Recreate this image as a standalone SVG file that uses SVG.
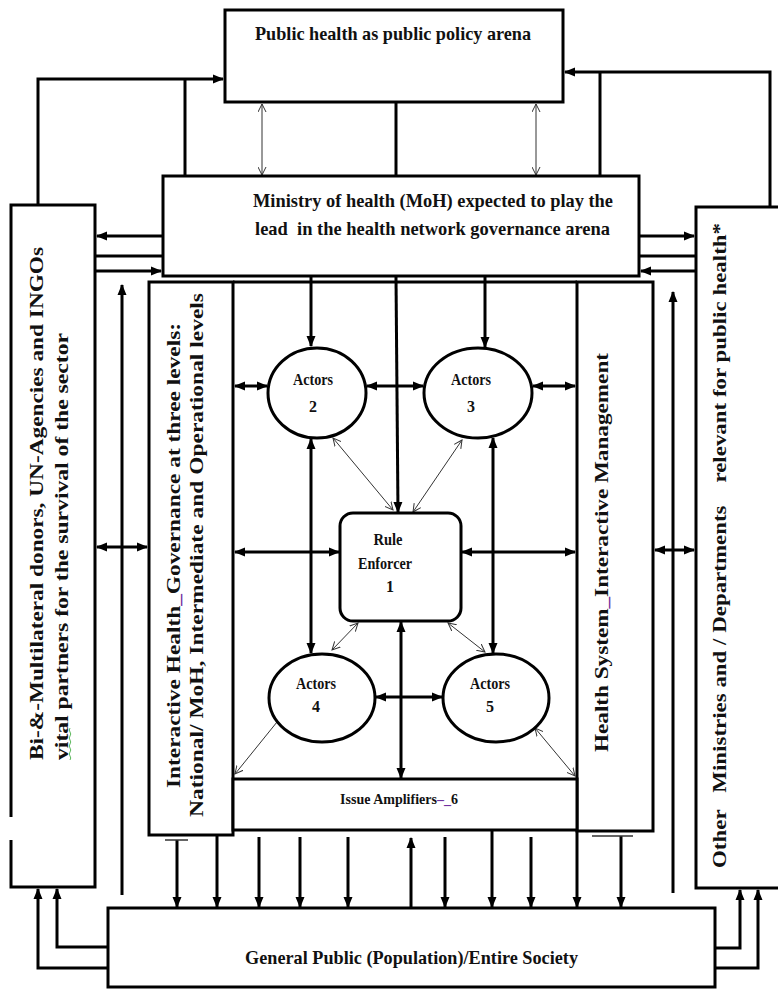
<svg xmlns="http://www.w3.org/2000/svg" width="778" height="989" viewBox="0 0 778 989">
<defs>
<style>
.box{fill:#fff;stroke:#000;stroke-width:3}
.ln{fill:none;stroke:#000;stroke-width:3}
.th{fill:none;stroke:#333;stroke-width:1}
.t{font-family:"Liberation Serif","Times New Roman",serif;font-weight:bold;fill:#111}
.pu{fill:#7030A0}
</style>
<marker id="ah" markerUnits="userSpaceOnUse" markerWidth="11" markerHeight="10" refX="10" refY="5" orient="auto-start-reverse"><path d="M0,0.5 L11,5 L0,9.5 z" fill="#000"/></marker>
<marker id="va" markerUnits="userSpaceOnUse" markerWidth="9" markerHeight="9" refX="8" refY="4.5" orient="auto-start-reverse"><path d="M0,0.5 L8,4.5 L0,8.5" fill="none" stroke="#333" stroke-width="1"/></marker>
</defs>
<rect width="778" height="989" fill="#fff"/>

<g id="connectors">
<path class="ln" d="M38,205 V79 H223" marker-end="url(#ah)"/>
<path class="ln" d="M185,79 V176"/>
<path class="ln" d="M770,207 V72 H565" marker-end="url(#ah)"/>
<path class="ln" d="M600,72 V176"/>
<path class="ln" d="M396,102 V176"/>
<path class="th" d="M262,104 V175" marker-start="url(#va)" marker-end="url(#va)"/>
<path class="th" d="M536,104 V175" marker-start="url(#va)" marker-end="url(#va)"/>
<path class="ln" d="M163,236 H97" marker-end="url(#ah)"/>
<path class="ln" d="M95,256 H163"/>
<path class="ln" d="M95,271 H161" marker-end="url(#ah)"/>
<path class="ln" d="M639,236 H694" marker-end="url(#ah)"/>
<path class="ln" d="M639,256 H696"/>
<path class="ln" d="M696,271 H641" marker-end="url(#ah)"/>
<path class="ln" d="M122,895 V285" marker-end="url(#ah)"/>
<path class="ln" d="M673,893 V292" marker-end="url(#ah)"/>
<path class="ln" d="M97,547 H147" marker-start="url(#ah)" marker-end="url(#ah)"/>
<path class="ln" d="M655,550 H694" marker-start="url(#ah)" marker-end="url(#ah)"/>
<path class="ln" d="M311,277 V346" marker-end="url(#ah)"/>
<path class="ln" d="M396,277 L398,512" marker-end="url(#ah)"/>
<path class="ln" d="M485,277 V347" marker-end="url(#ah)"/>
<path class="ln" d="M235,386 H267" marker-start="url(#ah)" marker-end="url(#ah)"/>
<path class="ln" d="M367,386 H423" marker-start="url(#ah)" marker-end="url(#ah)"/>
<path class="ln" d="M533,386 H575" marker-start="url(#ah)" marker-end="url(#ah)"/>
<path class="th" d="M333,438 L393,510" marker-start="url(#va)" marker-end="url(#va)"/>
<path class="th" d="M462,440 L413,512" marker-start="url(#va)" marker-end="url(#va)"/>
<path class="ln" d="M311,439 V653" marker-start="url(#ah)" marker-end="url(#ah)"/>
<path class="ln" d="M493,438 V653" marker-start="url(#ah)" marker-end="url(#ah)"/>
<path class="ln" d="M235,552 H339" marker-start="url(#ah)" marker-end="url(#ah)"/>
<path class="ln" d="M462,552 H575" marker-start="url(#ah)" marker-end="url(#ah)"/>
<path class="ln" d="M376,697 H442" marker-start="url(#ah)" marker-end="url(#ah)"/>
<path class="ln" d="M401,622 V778" marker-start="url(#ah)" marker-end="url(#ah)"/>
<path class="th" d="M358,623 L332,650" marker-start="url(#va)" marker-end="url(#va)"/>
<path class="th" d="M448,623 L485,652" marker-start="url(#va)" marker-end="url(#va)"/>
<path class="th" d="M277,722 L235,774" marker-end="url(#va)"/>
<path class="th" d="M535,728 L575,776" marker-start="url(#va)" marker-end="url(#va)"/>
<path class="ln" d="M177,840 V907" marker-end="url(#ah)"/>
<path class="ln" d="M217,835 V907" marker-end="url(#ah)"/>
<path class="ln" d="M259,837 V907" marker-end="url(#ah)"/>
<path class="ln" d="M300,837 V907" marker-end="url(#ah)"/>
<path class="ln" d="M348,837 V907" marker-end="url(#ah)"/>
<path class="ln" d="M411,908 V838" marker-end="url(#ah)"/>
<path class="ln" d="M445,837 V907" marker-end="url(#ah)"/>
<path class="ln" d="M492,830 V907" marker-end="url(#ah)"/>
<path class="ln" d="M531,837 V907" marker-end="url(#ah)"/>
<path class="ln" d="M577,831 V907" marker-end="url(#ah)"/>
<path class="ln" d="M621,836 V907" marker-end="url(#ah)"/>
<path d="M165,840 H188 M592,836 H633" stroke="#333" stroke-width="1.5" fill="none"/>
<path class="ln" d="M108,947 H57 V889" marker-end="url(#ah)"/>
<path class="ln" d="M108,968 H38 V889" marker-end="url(#ah)"/>
<path class="ln" d="M715,948 H740 V890" marker-end="url(#ah)"/>
<path class="ln" d="M715,968 H758 V890" marker-end="url(#ah)"/>
</g>

<g id="policy-arena">
<rect class="box" x="225" y="10" width="338" height="92"/>
<text class="t" x="255" y="40" font-size="19" textLength="276" lengthAdjust="spacingAndGlyphs">Public health as public policy arena</text>
</g>

<g id="moh">
<rect class="box" x="163" y="176" width="476" height="100"/>
<text class="t" x="253" y="207" font-size="19" textLength="360" lengthAdjust="spacingAndGlyphs">Ministry of health (MoH) expected to play the</text>
<text class="t" x="255" y="235" font-size="19" textLength="355" lengthAdjust="spacingAndGlyphs" xml:space="preserve">lead  in the health network governance arena</text>
</g>

<g id="donors">
<path class="box" d="M11,817 V205 H95 V887 H11 V840"/>
<text class="t" transform="translate(43,760) rotate(-90)" font-size="19" textLength="513" lengthAdjust="spacingAndGlyphs">Bi-&amp;-Multilateral donors, UN-Agencies and INGOs</text>
<text class="t" transform="translate(68,760) rotate(-90)" font-size="19" textLength="427" lengthAdjust="spacingAndGlyphs">vital partners for the survival of the sector</text>
<path d="M70,760 q1.5,-2 0,-4 q-1.5,-2 0,-4 q1.5,-2 0,-4 q-1.5,-2 0,-4 q1.5,-2 0,-4 q-1.5,-2 0,-4 q1.5,-2 0,-4 q-1.5,-2 0,-4" fill="none" stroke="#5cb85c" stroke-width="1"/>
</g>

<g id="other-ministries">
<rect class="box" x="696" y="207" width="100" height="681"/>
<text class="t" transform="translate(726,868) rotate(-90)" font-size="19" textLength="645" lengthAdjust="spacingAndGlyphs" xml:space="preserve">Other   Ministries and / Departments    relevant for public health*</text>
</g>

<g id="interactive-governance">
<rect class="box" x="149" y="282" width="84" height="553"/>
<text class="t" transform="translate(180,788) rotate(-90)" font-size="19" textLength="465" lengthAdjust="spacingAndGlyphs">Interactive Health<tspan class="pu">_</tspan>Governance at three levels:</text>
<text class="t" transform="translate(203,817) rotate(-90)" font-size="19" textLength="524" lengthAdjust="spacingAndGlyphs">National/ MoH, Intermediate and Operational levels</text>
</g>

<g id="inner-frame">
<path class="ln" d="M233,282 H577"/>
</g>

<g id="health-system">
<rect class="box" x="577" y="282" width="76" height="549"/>
<text class="t" transform="translate(608,752) rotate(-90)" font-size="19" textLength="399" lengthAdjust="spacingAndGlyphs">Health System<tspan class="pu">_</tspan>Interactive Management</text>
</g>

<g id="issue-amplifiers">
<rect class="box" x="233" y="779" width="344" height="51"/>
<text class="t" x="399" y="804" font-size="14" text-anchor="middle">Issue Amplifiers<tspan class="pu">–_</tspan>6</text>
</g>

<g id="actors2">
<ellipse class="box" cx="317" cy="393" rx="49" ry="45"/>
<text class="t" x="313" y="385" font-size="16" text-anchor="middle" textLength="40" lengthAdjust="spacingAndGlyphs">Actors</text>
<text class="t" x="313" y="412" font-size="16" text-anchor="middle">2</text>
</g>

<g id="actors3">
<ellipse class="box" cx="478" cy="393" rx="54" ry="45"/>
<text class="t" x="471" y="385" font-size="16" text-anchor="middle" textLength="40" lengthAdjust="spacingAndGlyphs">Actors</text>
<text class="t" x="471" y="412" font-size="16" text-anchor="middle">3</text>
</g>

<g id="rule-enforcer">
<rect class="box" x="340" y="513" width="121" height="108" rx="13"/>
<text class="t" x="388" y="545" font-size="16" text-anchor="middle" textLength="29" lengthAdjust="spacingAndGlyphs">Rule</text>
<text class="t" x="385" y="569" font-size="16" text-anchor="middle" textLength="54" lengthAdjust="spacingAndGlyphs">Enforcer</text>
<text class="t" x="390" y="592" font-size="16" text-anchor="middle">1</text>
</g>

<g id="actors4">
<ellipse class="box" cx="322" cy="698" rx="53" ry="44"/>
<text class="t" x="316" y="689" font-size="16" text-anchor="middle" textLength="40" lengthAdjust="spacingAndGlyphs">Actors</text>
<text class="t" x="316" y="712" font-size="16" text-anchor="middle">4</text>
</g>

<g id="actors5">
<ellipse class="box" cx="496" cy="698" rx="53" ry="44"/>
<text class="t" x="490" y="689" font-size="16" text-anchor="middle" textLength="40" lengthAdjust="spacingAndGlyphs">Actors</text>
<text class="t" x="490" y="712" font-size="16" text-anchor="middle">5</text>
</g>

<g id="general-public">
<rect class="box" x="108" y="908" width="607" height="79"/>
<text class="t" x="245" y="964" font-size="19" textLength="333" lengthAdjust="spacingAndGlyphs">General Public (Population)/Entire Society</text>
</g>
</svg>
